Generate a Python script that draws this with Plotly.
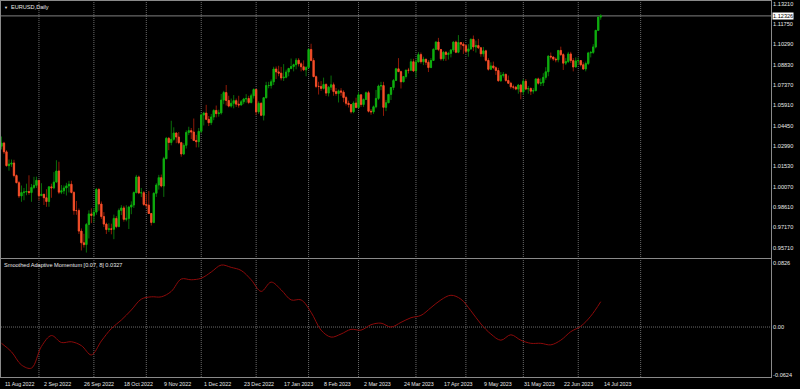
import plotly.graph_objects as go
import numpy as np

# ---------------- data ----------------
opens = [1.0298,1.0321,1.0258,1.0159,1.0170,1.0178,1.0088,1.0037,0.9942,0.9966,0.9970,0.9974,0.9966,1.0003,1.0018,
1.0054,0.9944,0.9954,0.9929,0.9902,1.0007,1.0000,1.0041,1.0121,0.9969,0.9979,0.9999,1.0014,1.0026,0.9967,0.9837,0.9837,0.9690,0.9606,0.9593,0.9737,0.9813,
0.9802,0.9826,0.9988,0.9884,0.9794,0.9740,0.9701,0.9706,0.9703,0.9781,0.9722,0.9838,0.9856,0.9774,0.9781,0.9862,0.9877,0.9966,1.0078,0.9964,0.9965,
0.9881,0.9876,0.9816,0.9752,0.9961,1.0020,1.0073,1.0013,1.0209,1.0355,1.0325,1.0348,1.0393,1.0364,1.0324,1.0243,1.0305,1.0397,1.0410,1.0400,1.0339,1.0331,
1.0405,1.0522,1.0536,1.0491,1.0467,1.0508,1.0555,1.0532,1.0537,1.0629,1.0683,1.0626,1.0586,1.0606,1.0625,1.0600,1.0594,1.0617,1.0637,1.0640,1.0612,1.0660,
1.0705,1.0545,1.0606,1.0520,1.0646,1.0733,1.0734,1.0760,1.0852,1.0831,1.0822,1.0788,1.0793,1.0830,1.0856,1.0870,1.0883,1.0915,1.0889,1.0868,1.0846,
1.0863,1.0992,1.0913,1.0797,1.0727,1.0727,1.0713,1.0741,1.0679,1.0722,1.0739,1.0690,1.0676,1.0695,1.0686,1.0647,1.0606,1.0597,1.0545,1.0608,
1.0576,1.0667,1.0597,1.0634,1.0682,1.0549,1.0545,1.0581,1.0641,1.0730,1.0733,1.0577,1.0610,1.0670,1.0719,1.0770,1.0853,1.0833,1.0760,1.0798,1.0844,1.0843,1.0904,
1.0838,1.0903,1.0955,1.0904,1.0922,1.0900,1.0862,1.0913,1.0993,1.1045,1.0992,1.0925,1.0972,1.0956,1.0964,1.0988,1.1045,1.0972,1.1042,1.1030,
1.1019,1.0979,1.0996,1.1065,1.1010,1.1020,1.1004,1.0961,1.0982,1.0914,1.0850,1.0874,1.0861,1.0841,1.0768,1.0806,1.0813,1.0770,1.0750,1.0724,1.0722,1.0708,1.0737,
1.0688,1.0764,1.0708,1.0712,1.0693,1.0698,1.0781,1.0750,1.0753,1.0792,1.0832,1.0944,1.0938,1.0923,1.0918,1.0985,1.0955,1.0894,1.0905,1.0960,1.0912,1.0866,
1.0910,1.0912,1.0882,1.0852,1.0891,1.0967,1.0971,1.1010,1.1129,1.1224]

highs = [1.0368,1.0330,1.0270,1.0203,1.0203,1.0201,1.0096,1.0050,1.0017,0.9999,1.0030,1.0090,1.0028,1.0079,1.0080,
1.0055,1.0033,0.9954,0.9990,1.0012,1.0030,1.0113,1.0198,1.0187,1.0020,1.0017,1.0036,1.0050,1.0051,0.9976,0.9906,0.9852,0.9709,0.9671,0.9748,0.9839,0.9853,
0.9855,0.9999,0.9999,0.9902,0.9826,0.9751,0.9746,0.9743,0.9808,0.9797,0.9852,0.9876,0.9871,0.9875,0.9871,0.9903,0.9974,1.0093,1.0088,0.9999,0.9977,
0.9955,0.9977,0.9820,0.9968,1.0033,1.0093,1.0095,1.0222,1.0365,1.0365,1.0481,1.0434,1.0398,1.0400,1.0330,1.0320,1.0412,1.0438,1.0429,1.0497,1.0380,1.0429,
1.0534,1.0545,1.0595,1.0515,1.0530,1.0563,1.0590,1.0560,1.0673,1.0695,1.0737,1.0660,1.0640,1.0665,1.0640,1.0660,1.0630,1.0645,1.0672,1.0660,1.0675,1.0713,
1.0710,1.0620,1.0613,1.0650,1.0760,1.0760,1.0777,1.0868,1.0870,1.0875,1.0867,1.0887,1.0847,1.0860,1.0927,1.0890,1.0930,1.0930,1.0900,1.0914,1.0872,
1.1000,1.1033,1.0930,1.0805,1.0760,1.0765,1.0790,1.0750,1.0730,1.0805,1.0755,1.0716,1.0705,1.0715,1.0700,1.0660,1.0625,1.0600,1.0620,1.0646,
1.0690,1.0670,1.0640,1.0690,1.0695,1.0565,1.0590,1.0702,1.0740,1.0760,1.0760,1.0630,1.0670,1.0720,1.0780,1.0860,1.0930,1.0840,1.0800,1.0845,1.0860,1.0925,1.0925,
1.0920,1.0973,1.0970,1.0940,1.0925,1.0915,1.0930,1.1000,1.1050,1.1075,1.0995,1.0980,1.0980,1.0975,1.0995,1.1050,1.1055,1.1095,1.1045,1.1045,
1.1030,1.1030,1.1070,1.1092,1.1055,1.1068,1.1010,1.1010,1.0990,1.0930,1.0900,1.0905,1.0870,1.0860,1.0830,1.0830,1.0820,1.0805,1.0760,1.0740,1.0730,1.0745,1.0745,
1.0780,1.0780,1.0730,1.0720,1.0715,1.0785,1.0790,1.0785,1.0822,1.0865,1.0950,1.0970,1.0940,1.0935,1.0985,1.1012,1.0965,1.0930,1.0975,1.0975,1.0930,1.0935,
1.0935,1.0915,1.0900,1.0905,1.0975,1.0980,1.1030,1.1130,1.1230,1.1245]

lows = [1.0275,1.0243,1.0152,1.0123,1.0150,1.0075,1.0033,0.9927,0.9900,0.9911,0.9947,0.9950,0.9900,0.9990,0.9999,
0.9910,0.9942,0.9877,0.9864,0.9864,0.9929,0.9990,1.0040,0.9955,0.9955,0.9956,0.9945,0.9967,0.9960,0.9807,0.9807,0.9669,0.9551,0.9572,0.9536,0.9637,0.9747,
0.9753,0.9807,0.9836,0.9777,0.9719,0.9669,0.9683,0.9667,0.9632,0.9711,0.9722,0.9805,0.9758,0.9760,0.9705,0.9811,0.9856,0.9960,0.9955,0.9934,0.9871,
0.9855,0.9815,0.9730,0.9746,0.9935,0.9987,1.0003,0.9935,1.0206,1.0270,1.0305,1.0338,1.0320,1.0313,1.0223,1.0235,1.0282,1.0378,1.0350,1.0338,1.0290,1.0290,
1.0390,1.0447,1.0485,1.0443,1.0450,1.0485,1.0505,1.0510,1.0525,1.0600,1.0590,1.0577,1.0575,1.0570,1.0580,1.0575,1.0590,1.0600,1.0610,1.0600,1.0605,1.0640,
1.0520,1.0530,1.0514,1.0483,1.0640,1.0714,1.0712,1.0737,1.0780,1.0800,1.0770,1.0766,1.0785,1.0800,1.0850,1.0835,1.0850,1.0870,1.0835,1.0837,1.0800,
1.0860,1.0907,1.0795,1.0715,1.0669,1.0695,1.0705,1.0658,1.0655,1.0700,1.0660,1.0660,1.0612,1.0660,1.0614,1.0590,1.0576,1.0533,1.0535,1.0570,
1.0570,1.0580,1.0580,1.0630,1.0540,1.0524,1.0530,1.0570,1.0630,1.0700,1.0516,1.0550,1.0610,1.0630,1.0700,1.0770,1.0830,1.0712,1.0760,1.0783,1.0820,1.0840,1.0830,
1.0790,1.0900,1.0890,1.0880,1.0880,1.0830,1.0860,1.0910,1.0990,1.0980,1.0912,1.0910,1.0910,1.0920,1.0935,1.0975,1.0965,1.0965,1.0990,1.0960,
1.0965,1.0940,1.0990,1.0980,1.0970,1.0995,1.0940,1.0940,1.0905,1.0840,1.0845,1.0850,1.0810,1.0760,1.0760,1.0790,1.0760,1.0745,1.0710,1.0705,1.0700,1.0675,1.0635,
1.0665,1.0700,1.0675,1.0665,1.0675,1.0690,1.0740,1.0730,1.0730,1.0775,1.0800,1.0920,1.0910,1.0900,1.0900,1.0945,1.0845,1.0880,1.0895,1.0895,1.0835,1.0865,
1.0880,1.0870,1.0845,1.0835,1.0880,1.0935,1.0960,1.1000,1.1125,1.1205]

closes = [1.0321,1.0258,1.0159,1.0170,1.0178,1.0088,1.0037,0.9942,0.9966,0.9970,0.9974,0.9966,1.0003,1.0018,1.0054,
0.9944,0.9954,0.9929,0.9902,1.0007,1.0000,1.0041,1.0121,0.9969,0.9979,0.9999,1.0014,1.0026,0.9967,0.9837,0.9837,0.9690,0.9606,0.9593,0.9737,0.9813,0.9802,
0.9826,0.9988,0.9884,0.9794,0.9740,0.9701,0.9706,0.9703,0.9781,0.9722,0.9838,0.9856,0.9774,0.9781,0.9862,0.9877,0.9966,1.0078,0.9964,0.9965,0.9881,
0.9876,0.9816,0.9752,0.9961,1.0020,1.0073,1.0013,1.0209,1.0355,1.0325,1.0348,1.0393,1.0364,1.0324,1.0243,1.0305,1.0397,1.0410,1.0400,1.0339,1.0331,1.0405,
1.0522,1.0536,1.0491,1.0467,1.0508,1.0555,1.0532,1.0537,1.0629,1.0683,1.0626,1.0586,1.0606,1.0625,1.0600,1.0594,1.0617,1.0637,1.0640,1.0612,1.0660,1.0705,
1.0545,1.0606,1.0520,1.0646,1.0733,1.0734,1.0760,1.0852,1.0831,1.0822,1.0788,1.0793,1.0830,1.0856,1.0870,1.0883,1.0915,1.0889,1.0868,1.0846,1.0863,
1.0992,1.0913,1.0797,1.0727,1.0727,1.0713,1.0741,1.0679,1.0722,1.0739,1.0690,1.0676,1.0695,1.0686,1.0647,1.0606,1.0597,1.0545,1.0608,1.0576,
1.0667,1.0597,1.0634,1.0682,1.0549,1.0545,1.0581,1.0641,1.0730,1.0733,1.0577,1.0610,1.0670,1.0719,1.0770,1.0853,1.0833,1.0760,1.0798,1.0844,1.0843,1.0904,1.0838,
1.0903,1.0955,1.0904,1.0922,1.0900,1.0862,1.0913,1.0993,1.1045,1.0992,1.0925,1.0972,1.0956,1.0964,1.0988,1.1045,1.0972,1.1042,1.1030,1.1019,
1.0979,1.0996,1.1065,1.1010,1.1020,1.1004,1.0961,1.0982,1.0914,1.0850,1.0874,1.0861,1.0841,1.0768,1.0806,1.0813,1.0770,1.0750,1.0724,1.0722,1.0708,1.0737,1.0688,
1.0764,1.0708,1.0712,1.0693,1.0698,1.0781,1.0750,1.0753,1.0792,1.0832,1.0944,1.0938,1.0923,1.0918,1.0985,1.0955,1.0894,1.0905,1.0960,1.0912,1.0866,1.0910,
1.0912,1.0882,1.0852,1.0891,1.0967,1.0971,1.1010,1.1129,1.1224,1.12326]

momentum_bars = [0,4,8,12,16,20,24,28,32,36,40,44,48,52,56,60,64,68,72,76,80,84,88,92,96,100,104,108,112,116,120,
124,128,132,136,140,144,148,152,156,160,164,168,172,176,180,184,188,192,196,200,204,208,212,216,220,224,228,232,236,240]
momentum = [-0.021,-0.032,-0.049,-0.053,-0.025,-0.011,-0.020,-0.019,-0.024,-0.036,-0.018,-0.002,0.009,0.022,0.036,0.039,
0.039,0.046,0.062,0.061,0.063,0.071,0.080,0.077,0.073,0.061,0.046,0.058,0.048,0.035,0.035,
0.019,-0.004,-0.013,-0.009,-0.003,-0.004,0.003,0.005,0.000,0.006,0.012,0.015,0.025,0.035,0.041,0.036,0.021,0.004,-0.009,
-0.017,-0.010,-0.017,-0.021,-0.021,-0.023,-0.017,-0.006,0.001,0.014,0.0327]

date_label_bars = [0,16,32,48,64,80,96,112,128,144,160,176,192,208,224,240]
date_labels = ["11 Aug 2022","2 Sep 2022","26 Sep 2022","18 Oct 2022","9 Nov 2022","1 Dec 2022","23 Dec 2022",
               "17 Jan 2023","8 Feb 2023","2 Mar 2023","24 Mar 2023","17 Apr 2023","9 May 2023","31 May 2023",
               "22 Jun 2023","14 Jul 2023"]
month_start_bars = [15,37,58,80,102,123,143,166,186,209,231,256]

price_ticks = [1.1321,1.1175,1.1029,1.0883,1.0737,1.0591,1.0445,1.0299,1.0153,1.0007,0.9861,0.9717,0.9571]
price_tick_text = ["1.13210","1.11750","1.10290","1.08830","1.07370","1.05910","1.04450","1.02990",
                   "1.01530","1.00070","0.98610","0.97170","0.95710"]
mom_ticks = [0.0826, 0.0, -0.0624]
mom_tick_text = ["0.0826", "0.00", "-0.0624"]
last_price = 1.12326
symbol_title = "EURUSD,Daily"
indicator_title = "Smoothed Adaptive Momentum [0.07, 8] 0.0327"

# ---------------- figure ----------------
FONT = "Liberation Sans, Arial, sans-serif"
TXT = "#e8e8e8"
FRAME = "#8a8a8a"
GRID = "#6a6a6a"
FS = 5.6

bars = list(range(len(closes)))
o = np.array(opens); c = np.array(closes)
body_hi = np.maximum(o, c)
body_lo = np.minimum(o, c)

fig = go.Figure()
# wicks (dark)
fig.add_trace(go.Candlestick(
    x=bars, open=opens, high=highs, low=lows, close=closes,
    increasing=dict(line=dict(color="#0a6e0a", width=1), fillcolor="#0a6e0a"),
    decreasing=dict(line=dict(color="#8e1a08", width=1), fillcolor="#8e1a08"),
    xaxis="x", yaxis="y", hoverinfo="skip", showlegend=False))
# bodies (bright)
fig.add_trace(go.Candlestick(
    x=bars, open=opens, high=body_hi, low=body_lo, close=closes,
    increasing=dict(line=dict(color="#0fb00f", width=0.8), fillcolor="#0fb00f"),
    decreasing=dict(line=dict(color="#f5522c", width=0.8), fillcolor="#f5522c"),
    xaxis="x", yaxis="y", hoverinfo="skip", showlegend=False))
# indicator
fig.add_trace(go.Scatter(
    x=momentum_bars, y=momentum, mode="lines", line=dict(color="#8c0a0a", width=1, shape="spline", smoothing=1.0),
    xaxis="x2", yaxis="y2", hoverinfo="skip", showlegend=False))

xr = [-0.2, 308.2]
top_main, bot_main = 1.13394, 0.94971
top_mom, bot_mom = 0.0878, -0.0645

axis_common = dict(showgrid=False, zeroline=False, showline=True, linecolor=FRAME, linewidth=1, mirror=True)

fig.update_layout(
    width=800, height=389,
    margin=dict(l=1, r=29, t=1, b=12),
    paper_bgcolor="black", plot_bgcolor="black",
    font=dict(family=FONT, size=FS, color=TXT),
    xaxis=dict(domain=[0, 1], range=xr, anchor="y", showticklabels=False, ticks="",
               rangeslider=dict(visible=False), **axis_common),
    yaxis=dict(domain=[0.3165, 1], range=[bot_main, top_main], side="right", anchor="x",
               tickvals=price_ticks, ticktext=price_tick_text, ticks="",
               tickfont=dict(size=FS, color=TXT, family=FONT), **axis_common),
    xaxis2=dict(domain=[0, 1], range=xr, anchor="y2", showticklabels=False, ticks="",
                rangeslider=dict(visible=False), **axis_common),
    yaxis2=dict(domain=[0, 0.3138], range=[bot_mom, top_mom], side="right", anchor="x2",
                tickvals=mom_ticks, ticktext=mom_tick_text, ticks="",
                tickfont=dict(size=FS, color=TXT, family=FONT), **axis_common),
    showlegend=False,
)

shapes = []
for b in month_start_bars:
    shapes.append(dict(type="line", xref="x", yref="paper", x0=b, x1=b, y0=0, y1=1,
                       line=dict(color=GRID, width=1, dash="1px,1px"), layer="below"))
# zero level in indicator pane
shapes.append(dict(type="line", xref="x2 domain", yref="y2", x0=0, x1=1, y0=0, y1=0,
                   line=dict(color=GRID, width=1, dash="1px,1px"), layer="below"))
# bid line
shapes.append(dict(type="line", xref="x domain", yref="y", x0=0, x1=1, y0=last_price, y1=last_price,
                   line=dict(color="#808080", width=1), layer="below"))
fig.update_layout(shapes=shapes)

ann = []
for b, t in zip(date_label_bars, date_labels):
    ann.append(dict(x=b, y=0, xref="x2", yref="paper", text=t, showarrow=False,
                    xanchor="left", yanchor="top", yshift=-2, xshift=1,
                    font=dict(size=5.3, color=TXT, family=FONT)))
ann.append(dict(x=0, y=1, xref="paper", yref="paper", text="▼", showarrow=False,
                xanchor="left", yanchor="top", xshift=1, yshift=-2, font=dict(size=4, color=TXT)))
ann.append(dict(x=0, y=1, xref="paper", yref="paper", text=symbol_title, showarrow=False,
                xanchor="left", yanchor="top", xshift=8, yshift=-1, font=dict(size=FS, color=TXT, family=FONT)))
ann.append(dict(x=0, y=0.3138, xref="paper", yref="paper", text=indicator_title, showarrow=False,
                xanchor="left", yanchor="top", xshift=1, yshift=-1, font=dict(size=FS, color=TXT, family=FONT)))
ann.append(dict(x=1, y=last_price, xref="paper", yref="y", text=f"{last_price:.5f}", showarrow=False,
                xanchor="left", yanchor="middle", xshift=1, bgcolor="white", borderpad=0,
                font=dict(size=FS, color="black", family=FONT)))
fig.update_layout(annotations=ann)

fig.write_html("out.html", include_plotlyjs=True, config={"displayModeBar": False, "staticPlot": True})
